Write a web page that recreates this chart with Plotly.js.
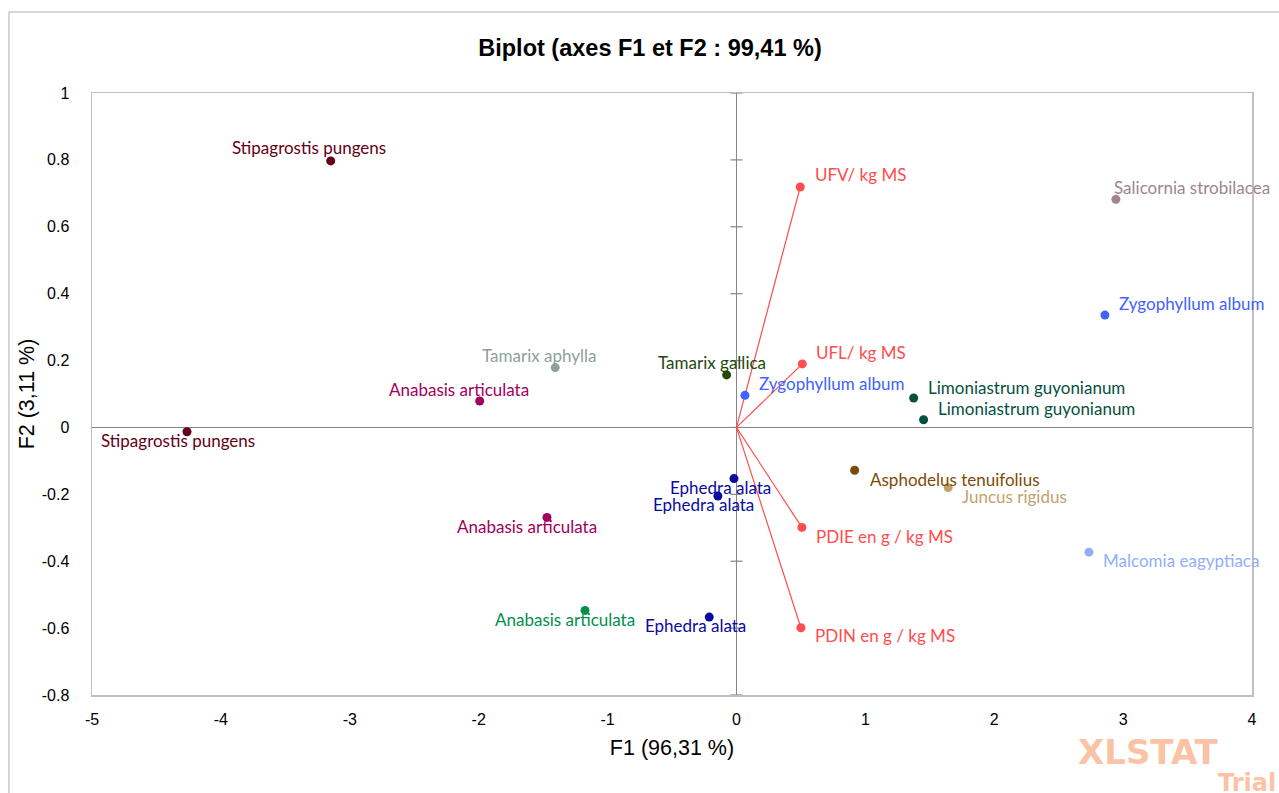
<!DOCTYPE html>
<html>
<head>
<meta charset="utf-8">
<script src="https://cdn.plot.ly/plotly-3.0.1.min.js"></script>
<style>html,body{margin:0;padding:0;background:#fff;}#chart{width:1279px;height:793px;}</style>
</head>
<body>
<div id="chart"></div>
<script>
// ---- Data ----
const obsNames = [
  "Stipagrostis pungens", "Stipagrostis pungens", "Tamarix aphylla", "Anabasis articulata",
  "Tamarix gallica", "Zygophyllum album", "Ephedra alata", "Ephedra alata",
  "Anabasis articulata", "Anabasis articulata", "Ephedra alata", "Salicornia strobilacea",
  "Zygophyllum album", "Limoniastrum guyonianum", "Limoniastrum guyonianum",
  "Asphodelus tenuifolius", "Juncus rigidus", "Malcomia eagyptiaca"
];
const obsF1 = [-3.148, -4.263, -1.406, -1.992, -0.076, 0.066, -0.019, -0.144, -1.470, -1.175, -0.211, 2.944, 2.859, 1.375, 1.452, 0.917, 1.643, 2.735];
const obsF2 = [0.797, -0.013, 0.179, 0.079, 0.157, 0.096, -0.153, -0.205, -0.269, -0.547, -0.567, 0.682, 0.336, 0.088, 0.023, -0.128, -0.180, -0.373];

const varNames = ["UFV/ kg MS", "UFL/ kg MS", "PDIE en g / kg MS", "PDIN en g / kg MS"];
const varF1 = [0.495, 0.511, 0.508, 0.500];
const varF2 = [0.719, 0.190, -0.299, -0.599];

const xTickVals = [-5, -4, -3, -2, -1, 0, 1, 2, 3, 4];
const yTickVals = [-0.8, -0.6, -0.4, -0.2, 0, 0.2, 0.4, 0.6, 0.8, 1];
const xTickText = xTickVals.map(String);
const yTickText = yTickVals.map(String);

const titleText = "Biplot (axes F1 et F2 : 99,41 %)";
const xTitle = "F1 (96,31 %)";
const yTitle = "F2 (3,11 %)";

// ---- Styles ----
const obsColors = [
  "#640016", "#640016", "#8fa09c", "#a2005c",
  "#224a0c", "#4262ff", "#0a0a9e", "#0a0a9e",
  "#a2005c", "#00904a", "#0a0a9e", "#9e8590",
  "#4262ff", "#06503f", "#06503f",
  "#7b4c06", "#c3a16e", "#93aef8"
];
const varColor = "#ff4c4c";
// label placement: [xanchor, xshift, yshift]
const obsLabelPos = [
  ["center", -22, 13], ["center", -9, -9], ["center", -16, 12], ["center", -21, 12],
  ["center", -15, 12], ["left", 12, 12], ["center", -14, -9], ["center", -14, -8],
  ["center", -20, -9], ["center", -20, -9], ["center", -14, -8], ["left", -4, 12],
  ["left", 12, 12], ["left", 12, 11], ["left", 12, 11],
  ["left", 13, -9], ["left", 12, -9], ["left", 12, -8]
];
const varLabelPos = [["left", 13, 12], ["left", 12, 11], ["left", 12, -9], ["left", 12, -8]];

const labelFont = "Lato, sans-serif";
const axisFont = "\"Liberation Sans\", Arial, sans-serif";

// ---- Traces ----
const traces = [];
varNames.forEach((n, i) => {
  traces.push({
    x: [0, varF1[i]], y: [0, varF2[i]], mode: "lines", type: "scatter",
    line: {color: varColor, width: 1.2}, hoverinfo: "skip", showlegend: false
  });
});
traces.push({
  x: varF1, y: varF2, mode: "markers", type: "scatter", text: varNames,
  marker: {color: varColor, size: 9}, showlegend: false
});
traces.push({
  x: obsF1, y: obsF2, mode: "markers", type: "scatter", text: obsNames,
  marker: {color: obsColors, size: 9}, showlegend: false
});

// ---- Annotations ----
const annotations = [];
obsNames.forEach((n, i) => {
  const p = obsLabelPos[i];
  annotations.push({
    x: obsF1[i], y: obsF2[i], xref: "x", yref: "y", text: n, showarrow: false,
    xanchor: p[0], yanchor: "middle", xshift: p[1], yshift: p[2],
    font: {family: labelFont, size: 17, color: obsColors[i]}
  });
});
varNames.forEach((n, i) => {
  const p = varLabelPos[i];
  annotations.push({
    x: varF1[i], y: varF2[i], xref: "x", yref: "y", text: n, showarrow: false,
    xanchor: p[0], yanchor: "middle", xshift: p[1], yshift: p[2],
    font: {family: labelFont, size: 17, color: varColor}
  });
});
// watermark
annotations.push({
  xref: "paper", yref: "paper", x: 0.848, y: -0.094, xanchor: "left", yanchor: "middle",
  text: "<b>XLSTAT</b>", showarrow: false,
  font: {family: "\"DejaVu Sans\", sans-serif", size: 34, color: "#fbc3a6"}
});
annotations.push({
  xref: "paper", yref: "paper", x: 1.022, y: -0.147, xanchor: "right", yanchor: "middle",
  text: "<b>Trial</b>", showarrow: false,
  font: {family: "\"DejaVu Sans\", sans-serif", size: 24, color: "#fbc3a6"}
});

// ---- Shapes ----
const shapes = [];
shapes.push({type: "rect", xref: "paper", yref: "paper", x0: -0.0716, x1: 1.2, y0: -0.3, y1: 1.1346,
  line: {color: "#b0b0b0", width: 1}, fillcolor: "rgba(0,0,0,0)", layer: "below"});
yTickVals.forEach(v => {
  shapes.push({type: "line", xref: "x", yref: "y", xsizemode: "pixel", xanchor: 0,
    x0: -6, x1: 6, y0: v, y1: v, line: {color: "#868686", width: 1.2}, layer: "below"});
});

const layout = {
  width: 1279, height: 793,
  margin: {l: 92, r: 27, t: 93, b: 98},
  paper_bgcolor: "#ffffff", plot_bgcolor: "#ffffff",
  showlegend: false,
  title: {
    text: "<b>" + titleText + "</b>", xref: "container", yref: "container",
    x: 650 / 1279, y: 1 - 47.5 / 793, xanchor: "center", yanchor: "middle",
    font: {family: axisFont, size: 23.5, color: "#000"}
  },
  xaxis: {
    range: [-5, 4], tickvals: xTickVals, ticktext: xTickText, ticks: "", showgrid: false,
    zeroline: true, zerolinecolor: "#868686", zerolinewidth: 1.5,
    showline: true, mirror: true, linecolor: "#bfbfbf", linewidth: 1.5,
    ticklabelstandoff: 9,
    tickfont: {family: axisFont, size: 16, color: "#000"},
    title: {text: xTitle, standoff: 13, font: {family: axisFont, size: 21.5, color: "#000"}}
  },
  yaxis: {
    range: [-0.8, 1], tickvals: yTickVals, ticktext: yTickText, ticks: "", showgrid: false,
    zeroline: true, zerolinecolor: "#868686", zerolinewidth: 1.5,
    showline: true, mirror: true, linecolor: "#bfbfbf", linewidth: 1.5,
    ticklabelstandoff: 18,
    tickfont: {family: axisFont, size: 16, color: "#000"},
    title: {text: yTitle, standoff: 1, font: {family: axisFont, size: 21.5, color: "#000"}}
  },
  annotations: annotations,
  shapes: shapes,
  hovermode: false
};

Plotly.newPlot("chart", traces, layout, {displayModeBar: false, staticPlot: true});
</script>
</body>
</html>
